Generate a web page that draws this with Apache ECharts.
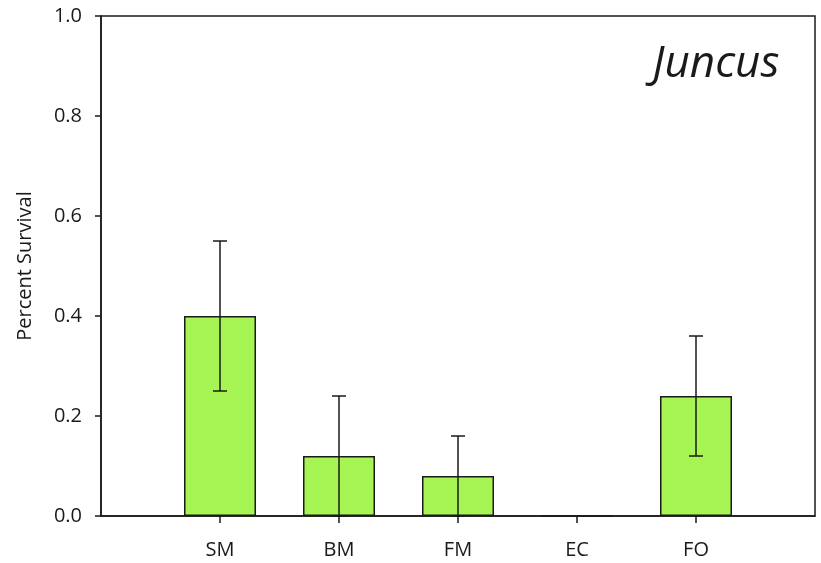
<!DOCTYPE html>
<html>
<head>
<meta charset="utf-8">
<title>Juncus survival</title>
<script src="https://cdn.jsdelivr.net/npm/echarts@6/dist/echarts.min.js"></script>
<style>
  html, body { margin: 0; padding: 0; background: #fff; }
  #chart { width: 821px; height: 563px; }
</style>
</head>
<body>
<div id="chart"></div>
<script>
// Treatments along the x axis
const categories = ['SM', 'BM', 'FM', 'EC', 'FO'];
// Mean proportion surviving per treatment
const survival = [0.40, 0.12, 0.08, 0.00, 0.24];
// Standard error of each mean
const stdErr = [0.15, 0.12, 0.08, 0.00, 0.12];
// Y axis ticks
const yTicks = [0, 0.2, 0.4, 0.6, 0.8, 1.0];

const FONT = '"Open Sans", "Noto Sans", sans-serif';
const INK = '#1a1a1a';

// Empty slots at both ends give half a band of space on either side
const xData = [''].concat(categories, ['']);
const barData = [null].concat(survival, [null]);
const errData = survival.map((v, i) => [i + 1, v, stdErr[i]]);

const chart = echarts.init(document.getElementById('chart'), null, { renderer: 'canvas' });

chart.setOption({
  animation: false,
  backgroundColor: '#ffffff',
  grid: {
    left: 101, right: 6, top: 16, bottom: 47,
    show: true, borderColor: INK, borderWidth: 1.5, backgroundColor: 'transparent'
  },
  graphic: [{
    type: 'text',
    x: 716, y: 64,
    style: {
      text: 'Juncus',
      font: 'italic 44px ' + FONT,
      fill: INK,
      textAlign: 'center',
      textVerticalAlign: 'middle'
    }
  }],
  xAxis: {
    type: 'category',
    data: xData,
    boundaryGap: false,
    axisLine: { show: true, lineStyle: { color: INK, width: 1.5 } },
    axisTick: {
      show: true, inside: false, length: 7,
      interval: (i) => i > 0 && i < xData.length - 1,
      lineStyle: { color: INK, width: 1.5 }
    },
    axisLabel: {
      interval: 0, margin: 24,
      color: INK, fontFamily: FONT, fontSize: 20
    },
    splitLine: { show: false }
  },
  yAxis: {
    type: 'value',
    min: yTicks[0], max: yTicks[yTicks.length - 1], interval: 0.2,
    name: 'Percent Survival',
    nameLocation: 'middle',
    nameGap: 66,
    nameTextStyle: { color: INK, fontFamily: FONT, fontSize: 20 },
    axisLine: { show: true, lineStyle: { color: INK, width: 1.5 } },
    axisTick: { show: true, inside: false, length: 6, lineStyle: { color: INK, width: 1.5 } },
    axisLabel: {
      margin: 19, color: INK, fontFamily: FONT, fontSize: 20,
      formatter: (v) => v.toFixed(1)
    },
    splitLine: { show: false }
  },
  series: [
    {
      type: 'bar',
      data: barData,
      barWidth: 72,
      itemStyle: { color: '#a6f552', borderColor: INK, borderWidth: 1.5 },
      z: 2
    },
    {
      type: 'custom',
      data: errData,
      encode: { x: 0, y: 1 },
      z: 3,
      renderItem: (params, api) => {
        const idx = api.value(0);
        const mean = api.value(1);
        const se = api.value(2);
        if (!se) return null;
        const top = api.coord([idx, mean + se]);
        const bot = api.coord([idx, Math.max(0, mean - se)]);
        const half = 7;
        const style = { stroke: INK, lineWidth: 1.5, fill: null };
        return {
          type: 'group',
          children: [
            { type: 'line', shape: { x1: top[0], y1: top[1], x2: bot[0], y2: bot[1] }, style },
            { type: 'line', shape: { x1: top[0] - half, y1: top[1], x2: top[0] + half, y2: top[1] }, style },
            { type: 'line', shape: { x1: bot[0] - half, y1: bot[1], x2: bot[0] + half, y2: bot[1] }, style }
          ]
        };
      }
    }
  ]
});
</script>
</body>
</html>
